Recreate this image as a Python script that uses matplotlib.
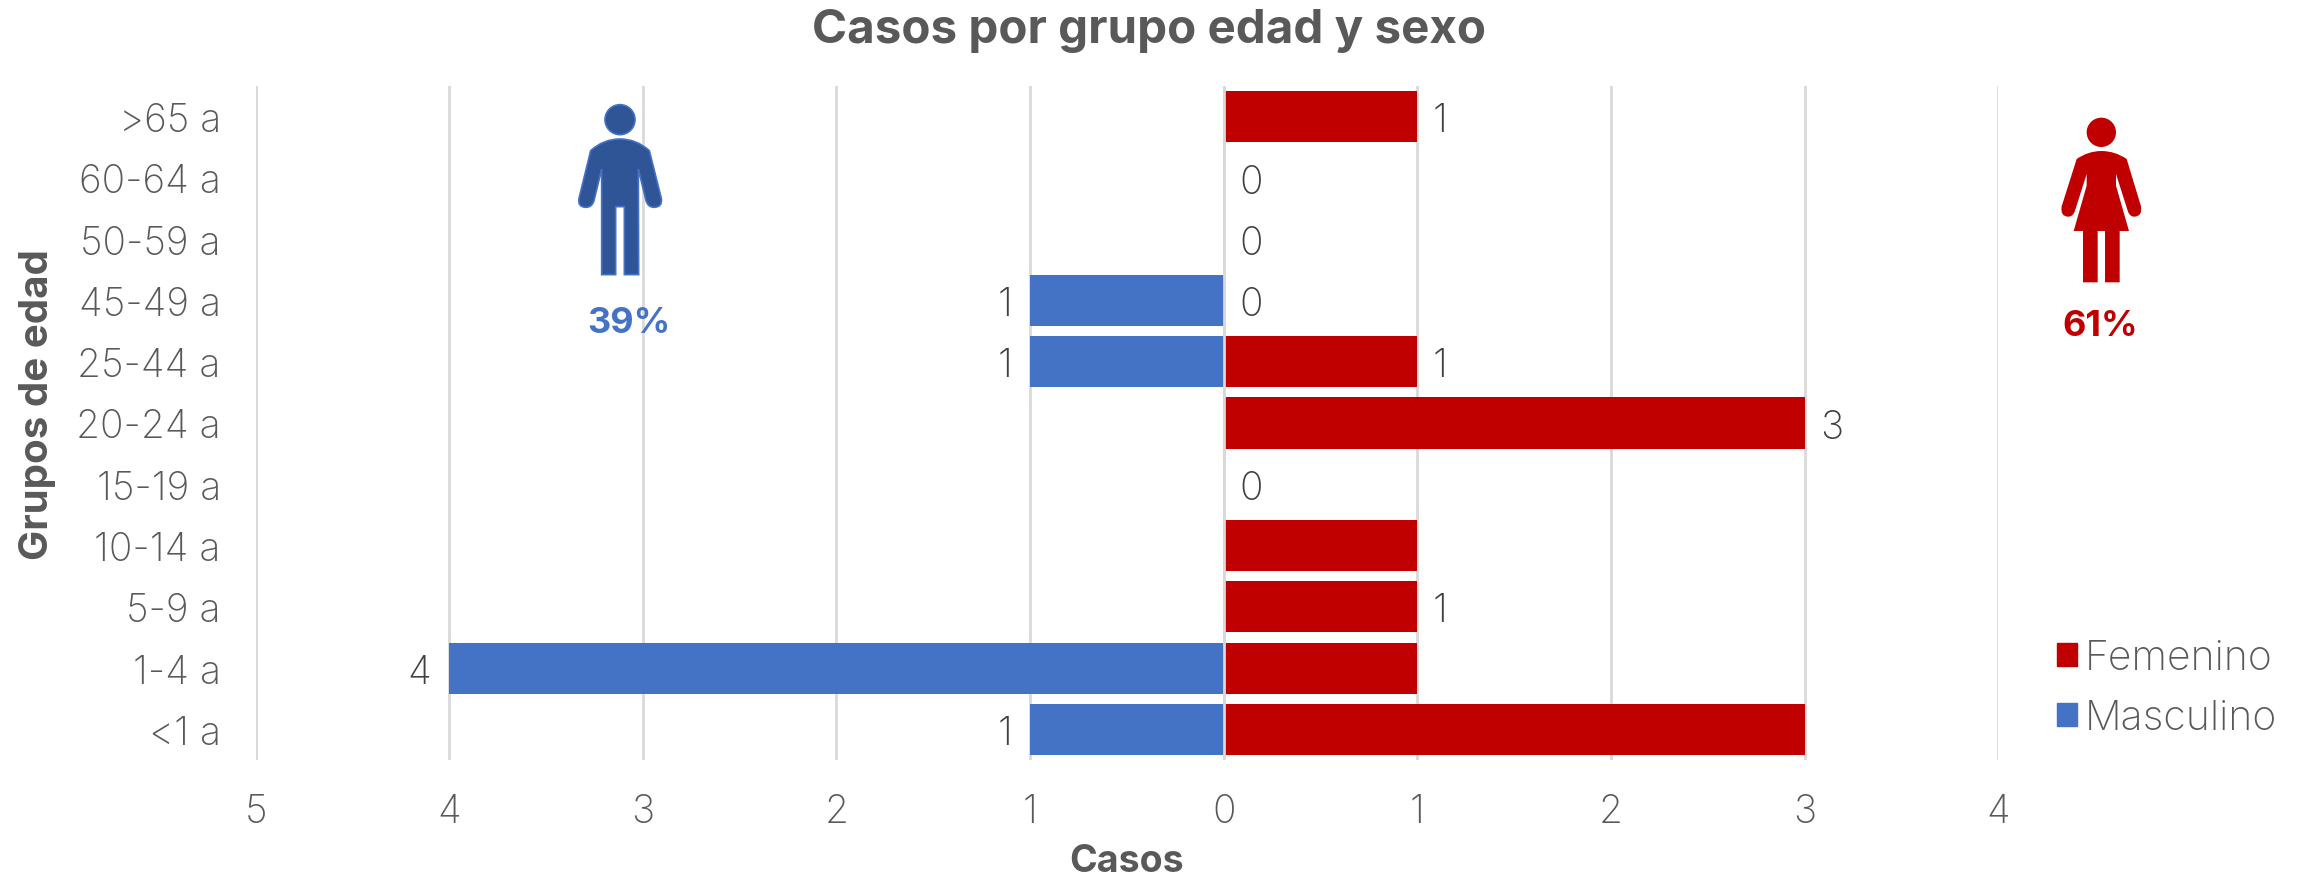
import matplotlib
matplotlib.use('Agg')
import matplotlib.pyplot as plt
from matplotlib.path import Path
from matplotlib.patches import PathPatch, Circle, Patch

plt.rcParams['font.family'] = ['Inter', 'DejaVu Sans']

# Categories bottom to top
grupos = ['<1 a', '1-4 a', '5-9 a', '10-14 a', '15-19 a', '20-24 a', '25-44 a', '45-49 a', '50-59 a', '60-64 a', '>65 a']
femenino = [3, 1, 1, 1, 0, 3, 1, 0, 0, 0, 1]
masculino = [1, 4, 0, 0, 0, 0, 1, 1, 0, 0, 0]
# Only some bars carry a label in the original
etiquetas_fem = [None, None, '1', None, '0', '3', '1', '0', '0', '0', '1']
etiquetas_masc = ['1', '4', None, None, None, None, '1', '1', None, None, None]
x_ticks = [-5, -4, -3, -2, -1, 0, 1, 2, 3, 4]

GRIS = '#595959'
AZUL = '#4472C4'
ROJO = '#C00000'
W, H = 2310, 879

fig = plt.figure(figsize=(W / 100, H / 100), dpi=100)
ax = fig.add_axes([255.5 / W, 1 - 761 / H, (1998.4 - 255.5) / W, (761 - 87) / H])

ypos = list(range(len(grupos)))
ax.barh(ypos, femenino, height=0.835, color=ROJO, linewidth=0, zorder=3)
ax.barh(ypos, [-m for m in masculino], height=0.835, color=AZUL, linewidth=0, zorder=3)
# the zero line stays visible on top of the bars
ax.axvline(0, color='#D9D9D9', linewidth=2, zorder=4)

for y, val, lab in zip(ypos, femenino, etiquetas_fem):
    if lab is not None:
        ax.annotate(lab, (val, y), xytext=(11, -3), textcoords='offset points', ha='left', va='center',
                    fontsize=28, color='#404040', fontweight='light')
for y, val, lab in zip(ypos, masculino, etiquetas_masc):
    if lab is not None:
        ax.annotate(lab, (-val, y), xytext=(-13, -3), textcoords='offset points', ha='right', va='center',
                    fontsize=28, color='#404040', fontweight='light')

ax.set_xlim(-5, 4)
ax.set_ylim(-0.5, len(grupos) - 0.5)
ax.set_xticks(x_ticks)
ax.set_xticklabels([str(abs(t)) for t in x_ticks], fontsize=28, color=GRIS, fontweight='light')
ax.set_yticks(ypos)
ax.set_yticklabels(grupos, fontsize=28, color=GRIS, fontweight='light')
ax.tick_params(length=0, axis='x', pad=24)
ax.tick_params(length=0, axis='y', pad=25)
ax.grid(axis='x', color='#D9D9D9', linewidth=2, zorder=0)
for s in ax.spines.values():
    s.set_visible(False)

ax.legend(handles=[Patch(color=ROJO, label='Femenino'), Patch(color=AZUL, label='Masculino')],
          loc='center left', bbox_to_anchor=(2057 / W, 1 - 689 / H), bbox_transform=fig.transFigure,
          frameon=False, prop={'size': 29.5, 'weight': 'light'}, labelcolor=GRIS,
          handlelength=0.5, handleheight=0.5, handletextpad=0.18, labelspacing=0.55, borderpad=0, borderaxespad=0)

fig.text(1149 / W, 1 - 31 / H, 'Casos por grupo edad y sexo', fontsize=34.2, fontweight='bold', color=GRIS, ha='center', va='center')
fig.text(1127 / W, 1 - 862 / H, 'Casos', fontsize=27, fontweight='bold', color=GRIS, ha='center', va='center')
fig.text(38 / W, 1 - 405 / H, 'Grupos de edad', fontsize=29, fontweight='bold', color=GRIS, ha='center', va='center', rotation=90)
fig.text(629 / W, 1 - 324 / H, '39%', fontsize=26, fontweight='bold', color=AZUL, ha='center', va='center')
fig.text(2100 / W, 1 - 327 / H, '61%', fontsize=26, fontweight='bold', color=ROJO, ha='center', va='center')

# Overlay in pixel coordinates for the two person icons
over = fig.add_axes([0, 0, 1, 1])
over.set_xlim(0, W)
over.set_ylim(H, 0)
over.axis('off')
over.patch.set_alpha(0)


def icono(puntos, cabeza, radio, color, borde, ancho, x0, y0):
    verts = [(x0 + x / 3, y0 + y / 3) for _, x, y in puntos]
    codes = [c for c, _, _ in puntos]
    over.add_patch(PathPatch(Path(verts, codes), facecolor=color, edgecolor=borde, linewidth=ancho))
    over.add_patch(Circle((x0 + cabeza[0] / 3, y0 + cabeza[1] / 3), radio / 3, facecolor=color, edgecolor=borde, linewidth=ancho))


M, L, C, Z = Path.MOVETO, Path.LINETO, Path.CURVE3, Path.CLOSEPOLY

hombre = [(M, 212, 215), (C, 250, 180), (C, 300, 180), (C, 350, 180), (C, 388, 215), (L, 424, 358),
          (C, 428, 385), (C, 402, 385), (C, 384, 385), (C, 378, 365), (L, 355, 270), (L, 356, 587),
          (L, 313, 587), (L, 313, 383), (L, 287, 383), (L, 287, 587), (L, 245, 587), (L, 245, 270),
          (L, 222, 365), (C, 216, 385), (C, 198, 385), (C, 172, 385), (C, 177, 358), (Z, 212, 215)]
mujer = [(M, 230, 210), (C, 265, 186), (C, 304, 186), (C, 345, 186), (C, 380, 210), (L, 423, 352),
         (C, 428, 383), (C, 402, 383), (C, 390, 383), (C, 384, 368), (L, 348, 255), (L, 348, 290),
         (L, 387, 426), (L, 359, 426), (L, 359, 580), (L, 315, 580), (L, 315, 426), (L, 293, 426),
         (L, 293, 580), (L, 249, 580), (L, 249, 426), (L, 221, 426), (L, 260, 290), (L, 260, 255),
         (L, 224, 368), (C, 218, 383), (C, 205, 383), (C, 180, 383), (C, 185, 352), (Z, 230, 210)]

icono(hombre, (300, 122), 45, '#2F5597', AZUL, 1.2, 520, 80)
icono(mujer, (304, 130), 44, ROJO, ROJO, 0, 2000, 90)

fig.savefig('out.png', dpi=100)
